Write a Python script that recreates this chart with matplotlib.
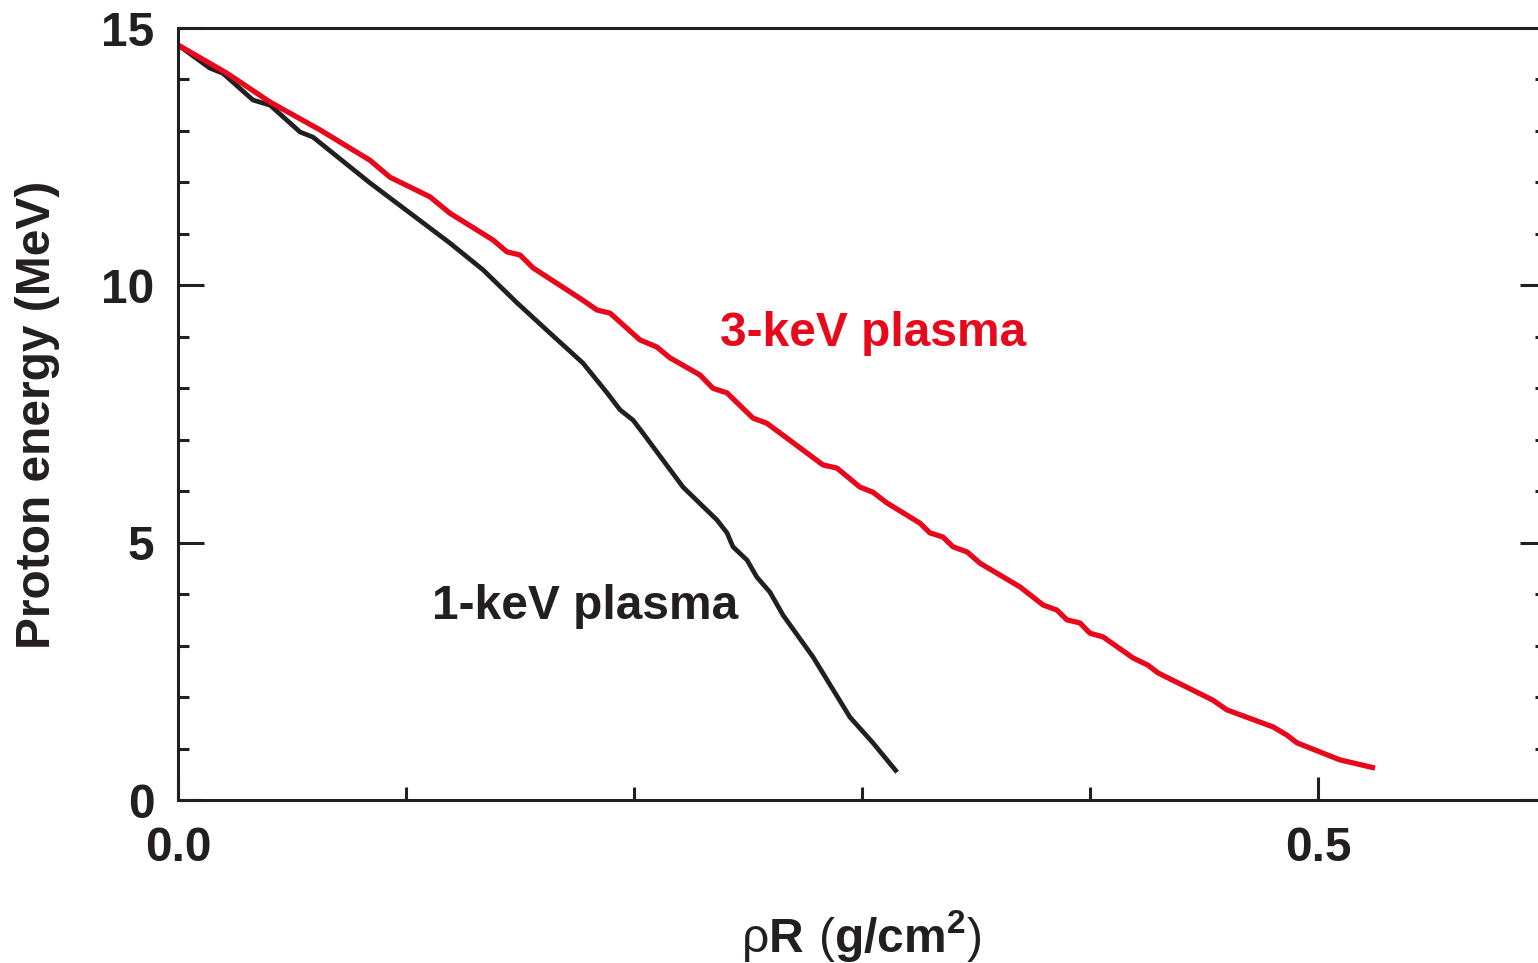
import numpy as np
import matplotlib
matplotlib.use("Agg")
import matplotlib.pyplot as plt
from matplotlib.ticker import FixedLocator

# rhoR (g/cm^2) vs proton energy (MeV)
rho_1kev = [0.0, 0.014, 0.0197, 0.0329, 0.0404, 0.0535, 0.0592, 0.0842, 0.1193,
            0.1338, 0.1487, 0.1632, 0.1776, 0.1882, 0.1939, 0.1996, 0.2039, 0.2215,
            0.2364, 0.2408, 0.2434, 0.2496, 0.2539, 0.2596, 0.2654, 0.2785, 0.2947,
            0.3048, 0.3154]
e_1kev = [14.67, 14.22, 14.12, 13.60, 13.50, 12.98, 12.88, 11.99, 10.82,
          10.30, 9.66, 9.07, 8.49, 7.91, 7.58, 7.38, 7.13, 6.08,
          5.44, 5.19, 4.92, 4.66, 4.33, 4.04, 3.59, 2.78, 1.61,
          1.11, 0.54]

rho_3kev = [0.0, 0.0215, 0.0404, 0.0623, 0.0842, 0.0930, 0.1105, 0.1193, 0.1382,
            0.1443, 0.1500, 0.1557, 0.1776, 0.1838, 0.1895, 0.2026, 0.2101, 0.2158,
            0.2289, 0.2346, 0.2408, 0.2522, 0.2583, 0.2829, 0.2890, 0.2991, 0.3048,
            0.3110, 0.3254, 0.3298, 0.3355, 0.3399, 0.3461, 0.3518, 0.3693, 0.3794,
            0.3855, 0.3899, 0.3956, 0.4000, 0.4057, 0.4189, 0.4254, 0.4298, 0.4539,
            0.4601, 0.4803, 0.4864, 0.4908, 0.5096, 0.5154, 0.5250]
e_3kev = [14.67, 14.12, 13.56, 13.02, 12.43, 12.10, 11.72, 11.40, 10.88,
          10.65, 10.59, 10.34, 9.71, 9.52, 9.46, 8.94, 8.80, 8.59,
          8.26, 8.00, 7.91, 7.42, 7.32, 6.51, 6.45, 6.08, 5.98,
          5.77, 5.38, 5.19, 5.11, 4.92, 4.82, 4.60, 4.14, 3.79,
          3.69, 3.50, 3.44, 3.24, 3.17, 2.76, 2.62, 2.47, 1.94,
          1.75, 1.42, 1.26, 1.11, 0.78, 0.72, 0.62]

x_major = [0.0, 0.5]
x_major_labels = ["0.0", "0.5"]
x_minor = [0.1, 0.2, 0.3, 0.4]
y_major = [0, 5, 10, 15]
y_major_labels = ["0", "5", "10", "15"]
y_minor = [1, 2, 3, 4, 6, 7, 8, 9, 11, 12, 13, 14]

ink = "#231F20"
red = "#E8081C"

plt.rcParams["font.family"] = ["Liberation Sans", "DejaVu Sans"]
plt.rcParams["mathtext.fontset"] = "custom"
plt.rcParams["mathtext.rm"] = "Liberation Sans"
plt.rcParams["mathtext.bf"] = "Liberation Sans:bold"

W, H = 1538, 963
fig = plt.figure(figsize=(W / 100, H / 100), dpi=100)
ax = fig.add_axes([178 / W, 1 - 800 / H, 1368 / W, 772 / H])

ax.plot(rho_1kev, e_1kev, color=ink, lw=3.4, solid_joinstyle="round", solid_capstyle="butt")
ax.plot(rho_3kev, e_3kev, color=red, lw=3.8, solid_joinstyle="round", solid_capstyle="butt")

ax.set_xlim(0, 0.6)
ax.set_ylim(0, 15)

for s in ax.spines.values():
    s.set_linewidth(2.2)
    s.set_color(ink)

ax.xaxis.set_major_locator(FixedLocator(x_major))
ax.xaxis.set_minor_locator(FixedLocator(x_minor))
ax.yaxis.set_major_locator(FixedLocator(y_major))
ax.yaxis.set_minor_locator(FixedLocator(y_minor))
ax.set_xticklabels(x_major_labels)
ax.set_yticklabels(y_major_labels)

ax.tick_params(axis="y", which="both", direction="in", left=True, right=True,
               width=2.2, color=ink, labelsize=34.5, pad=17)
ax.tick_params(axis="y", which="major", length=18.7)
ax.tick_params(axis="y", which="minor", length=8)
ax.tick_params(axis="x", which="both", direction="in", top=False, bottom=True,
               width=2.2, color=ink, labelsize=34.5, pad=19)
ax.tick_params(axis="x", which="major", length=16.5)
ax.tick_params(axis="x", which="minor", length=9.4)
for lab in ax.get_xticklabels() + ax.get_yticklabels():
    lab.set_fontweight("bold")
    lab.set_color(ink)

fig.text(38 / W, 1 - 415 / H, "Proton energy (MeV)", rotation=90, ha="center", va="center",
         fontsize=34.5, fontweight="bold", color=ink)
fig.text(861 / W, 1 - 952 / H, r"$\mathrm{\rho}\mathbf{R}\ \mathrm{(}\mathbf{g/cm^{2}}\mathrm{)}$",
         ha="center", va="baseline", fontsize=34.5, color=ink)

fig.text(720 / W, 1 - 346 / H, "3-keV plasma", ha="left", va="baseline",
         fontsize=34.5, fontweight="bold", color=red)
fig.text(432 / W, 1 - 619 / H, "1-keV plasma", ha="left", va="baseline",
         fontsize=34.5, fontweight="bold", color=ink)

fig.savefig("out.png", dpi=100)
